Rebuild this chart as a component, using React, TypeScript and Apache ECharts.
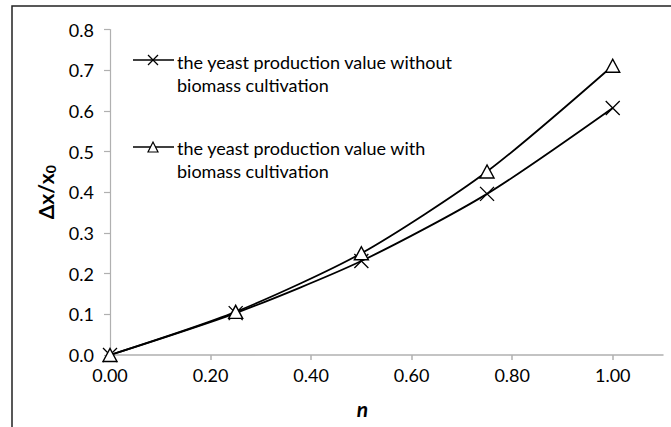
import React, { useEffect, useRef } from "react";
import * as echarts from "echarts";

const nValues = [0, 0.25, 0.5, 0.75, 1.0];
const withoutBiomass = [0, 0.103, 0.231, 0.396, 0.607];
const withBiomass = [0, 0.106, 0.25, 0.451, 0.711];
const xTicks = [0, 0.2, 0.4, 0.6, 0.8, 1.0];
const legendWithout = ["the yeast production value without", "biomass cultivation"];
const legendWith = ["the yeast production value with", "biomass cultivation"];

const FONT = "Lato";
const AXIS_GRAY = "#b0b0b0";

export default function App() {
  const ref = useRef<HTMLDivElement>(null);
  useEffect(() => {
    if (!ref.current) return;
    const chart = echarts.init(ref.current, null, { renderer: "svg" });
    const textStyle = { fontFamily: FONT, fontSize: 18, fill: "#000" };
    chart.setOption({
      animation: false,
      backgroundColor: "#fff",
      grid: { left: 110, right: 8, top: 29.5, bottom: 72, containLabel: false },
      xAxis: {
        type: "value",
        min: 0,
        max: 1.1,
        interval: 0.2,
        name: "n",
        nameLocation: "middle",
        nameGap: 43,
        nameTextStyle: {
          fontFamily: FONT,
          fontSize: 21,
          fontWeight: "bold",
          fontStyle: "italic",
          color: "#000",
          padding: [0, 48, 0, 0],
        },
        axisLine: { show: true, onZero: false, lineStyle: { color: AXIS_GRAY, width: 1.5 } },
        axisTick: { show: true, length: 5, lineStyle: { color: AXIS_GRAY, width: 1.5 }, customValues: xTicks },
        axisLabel: {
          fontFamily: FONT,
          fontSize: 18,
          color: "#000",
          margin: 11,
          customValues: xTicks,
          formatter: (v: number) => v.toFixed(2),
        },
        splitLine: { show: false },
      },
      yAxis: {
        type: "value",
        min: 0,
        max: 0.8,
        interval: 0.1,
        name: "{a|Δx/x}{s|0}",
        nameLocation: "middle",
        nameGap: 53,
        nameRotate: 90,
        nameTextStyle: {
          rich: {
            a: { fontFamily: FONT, fontSize: 21, fontWeight: "bold", color: "#000" },
            s: { fontFamily: FONT, fontSize: 14, fontWeight: "bold", color: "#000", padding: [9, 0, 0, 0] },
          },
        },
        axisLine: { show: true, lineStyle: { color: AXIS_GRAY, width: 1.2 } },
        axisTick: { show: true, length: 6, lineStyle: { color: AXIS_GRAY, width: 1.2 } },
        axisLabel: {
          fontFamily: FONT,
          fontSize: 18,
          color: "#000",
          margin: 16,
          formatter: (v: number) => v.toFixed(1),
        },
        splitLine: { show: false },
      },
      series: [
        {
          name: legendWithout.join(" "),
          type: "line",
          data: nValues.map((n, i) => [n, withoutBiomass[i]]),
          smooth: 0.25,
          symbol: "path://M0,0L10,10M10,0L0,10",
          symbolSize: 14,
          lineStyle: { color: "#000", width: 1.8 },
          itemStyle: { color: "#000", borderColor: "#000", borderWidth: 1.3 },
          z: 2,
        },
        {
          name: legendWith.join(" "),
          type: "line",
          data: nValues.map((n, i) => [n, withBiomass[i]]),
          smooth: 0.25,
          symbol: "triangle",
          symbolSize: [14, 13],
          lineStyle: { color: "#000", width: 1.8 },
          itemStyle: { color: "#fff", borderColor: "#000", borderWidth: 1.4 },
          z: 3,
        },
      ],
      graphic: [
        {
          type: "rect",
          shape: { x: 12, y: 6, width: 720, height: 500 },
          style: { fill: "none", stroke: "#222", lineWidth: 1.5 },
          silent: true,
        },
        { type: "line", shape: { x1: 133, y1: 60, x2: 174, y2: 60 }, style: { stroke: "#000", lineWidth: 1.5 } },
        { type: "line", shape: { x1: 148, y1: 55, x2: 158, y2: 65 }, style: { stroke: "#000", lineWidth: 1.2 } },
        { type: "line", shape: { x1: 158, y1: 55, x2: 148, y2: 65 }, style: { stroke: "#000", lineWidth: 1.2 } },
        { type: "text", x: 177, y: 62, style: { ...textStyle, text: legendWithout[0], verticalAlign: "middle" } },
        { type: "text", x: 177, y: 85, style: { ...textStyle, text: legendWithout[1], verticalAlign: "middle" } },
        { type: "line", shape: { x1: 133, y1: 147, x2: 174, y2: 147 }, style: { stroke: "#000", lineWidth: 1.5 } },
        {
          type: "polygon",
          shape: { points: [[148, 152], [158, 152], [153, 142]] },
          style: { fill: "#fff", stroke: "#000", lineWidth: 1.2 },
        },
        { type: "text", x: 177, y: 148, style: { ...textStyle, text: legendWith[0], verticalAlign: "middle" } },
        { type: "text", x: 177, y: 171, style: { ...textStyle, text: legendWith[1], verticalAlign: "middle" } },
      ],
    });
    return () => chart.dispose();
  }, []);
  return (
    <div
      ref={ref}
      style={{ position: "fixed", left: 0, top: 0, width: 671, height: 427, background: "#fff" }}
    />
  );
}
